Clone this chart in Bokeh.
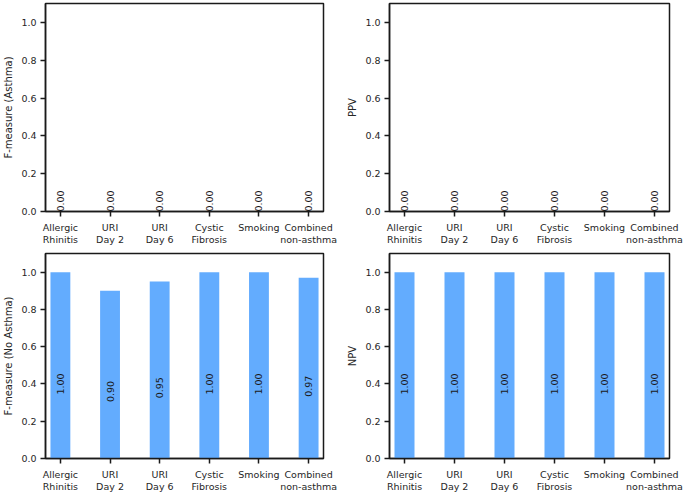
import math
from bokeh.plotting import figure
from bokeh.layouts import column, row
from bokeh.models import Range1d, FixedTicker, ColumnDataSource, NumeralTickFormatter
from bokeh.embed import file_html
from bokeh.resources import INLINE

categories = ["Allergic\nRhinitis", "URI\nDay 2", "URI\nDay 6",
              "Cystic\nFibrosis", "Smoking", "Combined\nnon-asthma"]
f_asthma = [0.00, 0.00, 0.00, 0.00, 0.00, 0.00]
ppv = [0.00, 0.00, 0.00, 0.00, 0.00, 0.00]
f_no_asthma = [1.00, 0.90, 0.95, 1.00, 1.00, 0.97]
npv = [1.00, 1.00, 1.00, 1.00, 1.00, 1.00]
y_ticks = [0.0, 0.2, 0.4, 0.6, 0.8, 1.0]

BAR_COLOR = "#63acfe"
FONT = "DejaVu Sans"
TXT = "#262626"


def make_panel(values, ylabel, width, height, bl, br, bt, bb):
    xs = list(range(len(categories)))
    p = figure(width=width, height=height, output_backend="svg",
               toolbar_location=None, tools="",
               x_range=Range1d(-0.3, len(categories) - 0.7),
               y_range=Range1d(0, 1.1),
               min_border_left=bl, min_border_right=br,
               min_border_top=bt, min_border_bottom=bb)
    p.vbar(x=xs, top=values, width=0.4, fill_color=BAR_COLOR,
           line_color=None)

    lab_c = dict(x=[], y=[], t=[])
    lab_l = dict(x=[], y=[], t=[])
    for x, v in zip(xs, values):
        if v > 0:
            lab_c["x"].append(x); lab_c["y"].append(v * 0.4); lab_c["t"].append(f"{v:.2f}")
        else:
            lab_l["x"].append(x); lab_l["y"].append(v); lab_l["t"].append(f"{v:.2f}")
    for d, align in ((lab_c, "center"), (lab_l, "left")):
        if d["x"]:
            p.text(x="x", y="y", text="t", source=ColumnDataSource(d),
                   angle=math.pi / 2, text_align=align, text_baseline="middle",
                   text_font_size="9.5px", text_color="#1a1a1a",
                   text_font={"value": FONT})

    p.xgrid.visible = False
    p.ygrid.visible = False
    p.outline_line_color = "#1a1a1a"
    p.outline_line_width = 1.5
    p.outline_line_alpha = 1.0

    p.xaxis.ticker = FixedTicker(ticks=xs)
    p.xaxis.major_label_overrides = {i: c for i, c in zip(xs, categories)}
    p.yaxis.ticker = FixedTicker(ticks=y_ticks)
    p.yaxis.formatter = NumeralTickFormatter(format="0.0")
    p.yaxis.axis_label = ylabel
    for ax in (p.xaxis, p.yaxis):
        ax.axis_line_color = "#1a1a1a"
        ax.axis_line_width = 1.5
        ax.major_tick_line_color = "#1a1a1a"
        ax.major_tick_line_width = 1.5
        ax.major_tick_out = 5
        ax.major_tick_in = 0
        ax.minor_tick_line_color = None
        ax.major_label_text_font = FONT
        ax.major_label_text_font_size = "9.5px"
        ax.major_label_text_color = TXT
        ax.major_label_text_line_height = 1.1
        ax.axis_label_text_font = FONT
        ax.axis_label_text_font_size = "10px"
        ax.axis_label_text_font_style = "normal"
        ax.axis_label_text_color = TXT
        ax.axis_label_standoff = 4
    p.xaxis.major_label_standoff = 5
    p.yaxis.major_label_standoff = 4
    p.xaxis.major_label_text_align = "center"
    p.background_fill_color = "white"
    p.border_fill_color = "white"
    return p


p1 = make_panel(f_asthma, "F-measure (Asthma)", 342, 247, 44, 19, 3, 36)
p2 = make_panel(ppv, "PPV", 343, 247, 47, 16, 3, 36)
p3 = make_panel(f_no_asthma, "F-measure (No Asthma)", 342, 247, 44, 19, 6, 36)
p4 = make_panel(npv, "NPV", 343, 247, 47, 16, 6, 36)

layout = column(row(p1, p2), row(p3, p4))
open("out.html", "w").write(file_html(layout, INLINE))
